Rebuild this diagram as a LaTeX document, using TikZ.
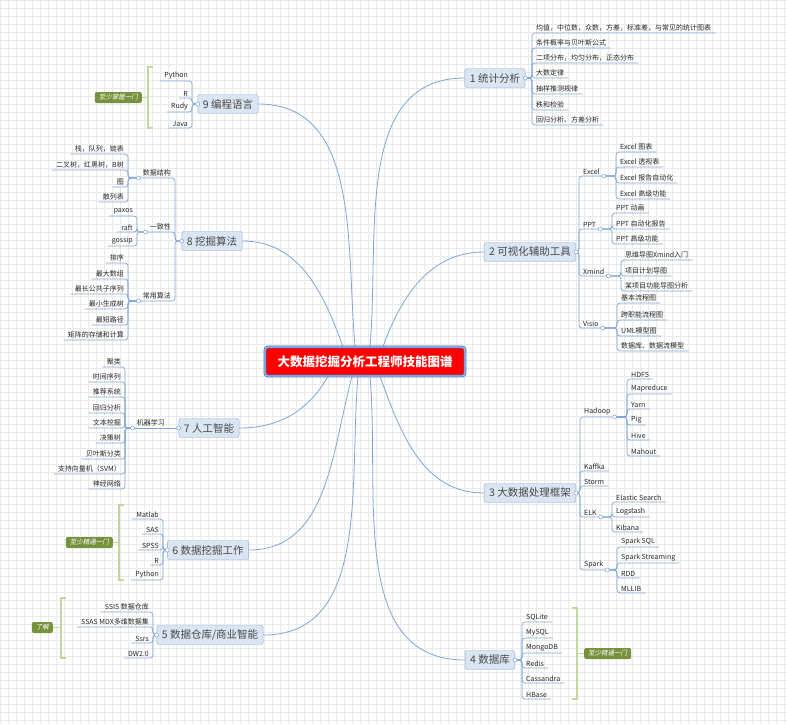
\documentclass[tikz,border=0pt]{standalone}
\usepackage{fontspec}
\setmainfont{Noto Sans CJK SC}
\newfontfamily\tagfont[FakeSlant=0.2]{Noto Sans CJK SC}
\usetikzlibrary{positioning, calc}
\definecolor{linkblue}{RGB}{125,165,215}
\definecolor{topicfill}{RGB}{219,229,241}
\definecolor{topicline}{RGB}{141,175,220}
\definecolor{rootblue}{RGB}{70,110,190}
\definecolor{rootlight}{RGB}{160,190,235}
\definecolor{tagolive}{RGB}{118,146,60}
\definecolor{bracegreen}{RGB}{196,214,160}
\definecolor{ink}{RGB}{40,40,40}
\definecolor{gridgray}{RGB}{234,234,234}
\tikzset{
  root/.style={draw=rootblue, line width=0.8pt, double=rootlight, double distance=1.2pt,
    fill=red, rounded corners=3pt, text=white, minimum width=200pt, minimum height=29pt,
    font=\fontsize{12.5}{15}\selectfont\bfseries},
  topic/.style={draw=topicline, fill=topicfill, rounded corners=2pt, text=ink!85,
    font=\fontsize{10.5}{12}\selectfont, minimum height=19pt, inner xsep=5pt, inner ysep=0pt},
  leafR/.style={anchor=south west, font=\fontsize{7}{8}\selectfont, text=ink,
    inner xsep=4pt, inner ysep=1.5pt},
  leafL/.style={leafR, anchor=south east},
  branch/.style={draw=linkblue, line width=0.7pt, rounded corners=3pt},
  link/.style={draw=linkblue, line width=0.8pt},
  knob/.style={draw=linkblue, fill=white, line width=0.5pt},
  bracket/.style={draw=bracegreen, line width=1.8pt},
  tag/.style={fill=tagolive, text=white, rounded corners=2pt,
    font=\tagfont\fontsize{6.5}{8}\selectfont, inner xsep=4pt, inner ysep=2.5pt}
}
\begin{document}
\begin{tikzpicture}[x=1pt, y=-1pt]
  \useasboundingbox (0,0) rectangle (787,724);
  \fill[white] (0,0) rectangle (787,724);
  \draw[gridgray, line width=0.4pt, step=8pt] (0pt,0pt) grid (787pt,-724pt);

  % centre and main topics
  \node[root] (root) at (365,361.5) {大数据挖掘分析工程师技能图谱};
  \node[topic] (t1) at (495,78) {1 统计分析};
  \node[topic] (t2) at (530,252) {2 可视化辅助工具};
  \node[topic] (t3) at (530,493) {3 大数据处理框架};
  \node[topic] (t4) at (490,660) {4 数据库};
  \node[topic] (t5) at (210,635) {5 数据仓库/商业智能};
  \node[topic] (t6) at (208,550) {6 数据挖掘工作};
  \node[topic] (t7) at (209,428) {7 人工智能};
  \node[topic] (t8) at (212,241) {8 挖掘算法};
  \node[topic] (t9) at (228,104) {9 编程语言};

  \draw[link] ([xshift=5pt]root.north) to[out=85, in=180] (t1.west);
  \draw[link] ([xshift=18pt]root.north) to[out=70, in=180] (t2.west);
  \draw[link] ([xshift=15pt]root.south) to[out=-70, in=180] (t3.west);
  \draw[link] ([xshift=5pt]root.south) to[out=-85, in=180] (t4.west);
  \draw[link] ([xshift=-7pt]root.south) to[out=-95, in=0] (t5.east);
  \draw[link] ([xshift=-13pt]root.south) to[out=-105, in=0] (t6.east);
  \draw[link] ([xshift=-37pt]root.south) to[out=-120, in=0] (t7.east);
  \draw[link] ([xshift=-22pt]root.north) to[out=110, in=0] (t8.east);
  \draw[link] ([xshift=-10pt]root.north) to[out=95, in=0] (t9.east);

  % 1 statistics
  \foreach \t/\y [count=\i] in {均值，中位数，众数，方差，标准差，与常见的统计图表/33,
      条件概率与贝叶斯公式/48, 二项分布，均匀分布，正态分布/63, 大数定律/78,
      抽样推测规律/94, 秩和检验/110, 回归分析、方差分析/125}{
    \node[leafR] (stat\i) at (532,\y) {\t};
    \draw[branch] (t1.east) -- (stat\i.south west |- t1.east) -- (stat\i.south west) -- (stat\i.south east);
  }

  % 2 visual tools
  \node[leafR] (excel) at (579,176) {Excel};
  \node[leafR] (ppt) at (579,229) {PPT};
  \node[leafR] (xmind) at (579,276) {Xmind};
  \node[leafR] (visio) at (579,328) {Visio};
  \foreach \p in {excel, ppt, xmind, visio}
    \draw[branch] (t2.east) -- (\p.south west |- t2.east) -- (\p.south west) -- (\p.south east);
  \foreach \t/\y [count=\i] in {Excel 图表/152, Excel 透视表/167, Excel 报告自动化/183, Excel 高级功能/199}{
    \node[leafR] (exc\i) at (616,\y) {\t};
    \draw[branch] (excel.south east) -- (exc\i.south west |- excel.south east) -- (exc\i.south west) -- (exc\i.south east);
  }
  \foreach \t/\y [count=\i] in {PPT 动画/213, PPT 自动化报告/229, PPT 高级功能/244}{
    \node[leafR] (ppt\i) at (612,\y) {\t};
    \draw[branch] (ppt.south east) -- (ppt\i.south west |- ppt.south east) -- (ppt\i.south west) -- (ppt\i.south east);
  }
  \foreach \t/\y [count=\i] in {思维导图Xmind入门/260, 项目计划导图/276, 某项目功能导图分析/291}{
    \node[leafR] (xm\i) at (621,\y) {\t};
    \draw[branch] (xmind.south east) -- (xm\i.south west |- xmind.south east) -- (xm\i.south west) -- (xm\i.south east);
  }
  \foreach \t/\y [count=\i] in {基本流程图/303, 跨职能流程图/320, UML模型图/336, 数据库、数据流模型/351}{
    \node[leafR] (vis\i) at (617,\y) {\t};
    \draw[branch] (visio.south east) -- (vis\i.south west |- visio.south east) -- (vis\i.south west) -- (vis\i.south east);
  }

  % 3 big data frameworks
  \node[leafR] (hadoop) at (580,417) {Hadoop};
  \node[leafR] (kaffka) at (580,471) {Kaffka};
  \node[leafR] (storm) at (580,486) {Storm};
  \node[leafR] (elk) at (580,517) {ELK};
  \node[leafR] (spark) at (580,570) {Spark};
  \foreach \p in {hadoop, kaffka, storm, elk, spark}
    \draw[branch] (t3.east) -- (\p.south west |- t3.east) -- (\p.south west) -- (\p.south east);
  \foreach \t/\y [count=\i] in {HDFS/379, Mapreduce/394, Yarn/409, Pig/425, Hive/440, Mahout/456}{
    \node[leafR] (had\i) at (627,\y) {\t};
    \draw[branch] (hadoop.south east) -- (had\i.south west |- hadoop.south east) -- (had\i.south west) -- (had\i.south east);
  }
  \foreach \t/\y [count=\i] in {Elastic Search/502, Logstash/517, Kibana/532}{
    \node[leafR] (elk\i) at (612,\y) {\t};
    \draw[branch] (elk.south east) -- (elk\i.south west |- elk.south east) -- (elk\i.south west) -- (elk\i.south east);
  }
  \foreach \t/\y [count=\i] in {Spark SQL/547, Spark Streaming/563, RDD/578, MLLIB/593}{
    \node[leafR] (spk\i) at (617,\y) {\t};
    \draw[branch] (spark.south east) -- (spk\i.south west |- spark.south east) -- (spk\i.south west) -- (spk\i.south east);
  }

  % 4 databases
  \foreach \t/\y [count=\i] in {SQLite/622, MySQL/638, MongoDB/653, Redis/668, Cassandra/683, HBase/699}{
    \node[leafR] (db\i) at (522,\y) {\t};
    \draw[branch] (t4.east) -- (db\i.south west |- t4.east) -- (db\i.south west) -- (db\i.south east);
  }
  \node[tag, anchor=west] (tg4) at (584,653.5) {至少精通一门};
  \draw[bracket] (572,608) -- (577,608) -- (577,699) -- (572,699);
  \draw[bracket] (577,653.5) -- (tg4.west);

  % 5 data warehouse / BI
  \foreach \t/\y [count=\i] in {SSIS 数据仓库/612, SSAS MDX多维数据集/627, Ssrs/643, DW2.0/658}{
    \node[leafL] (bi\i) at (153,\y) {\t};
    \draw[branch] (t5.west) -- (bi\i.south east |- t5.west) -- (bi\i.south east) -- (bi\i.south west);
  }
  \node[tag, anchor=east] (tg5) at (53,627.5) {了解};
  \draw[bracket] (66,598) -- (61,598) -- (61,658) -- (66,658);
  \draw[bracket] (61,627.5) -- (tg5.east);

  % 6 data mining tools
  \foreach \t/\y [count=\i] in {Matlab/519, SAS/534, SPSS/550, R/565, Python/580}{
    \node[leafL] (dm\i) at (163,\y) {\t};
    \draw[branch] (t6.west) -- (dm\i.south east |- t6.west) -- (dm\i.south east) -- (dm\i.south west);
  }
  \node[tag, anchor=east] (tg6) at (113,542.5) {至少精通一门};
  \draw[bracket] (124,505) -- (119,505) -- (119,580) -- (124,580);
  \draw[bracket] (119,542.5) -- (tg6.east);

  % 7 artificial intelligence
  \node[leafL] (ml) at (169,428) {机器学习};
  \draw[branch] (t7.west) -- (ml.south west);
  \foreach \t/\y [count=\i] in {聚类/367, 时间序列/382, 推荐系统/397, 回归分析/413, 文本挖掘/428,
      决策树/443, 贝叶斯分类/459, 支持向量机（SVM）/474, 神经网络/489}{
    \node[leafL] (ml\i) at (125,\y) {\t};
    \draw[branch] (ml.south west) -- (ml\i.south east |- ml.south west) -- (ml\i.south east) -- (ml\i.south west);
  }

  % 8 algorithms
  \node[leafL] (ds) at (175,178) {数据结构};
  \node[leafL] (cons) at (175,232) {一致性};
  \node[leafL] (algo) at (175,301) {常用算法};
  \foreach \p in {ds, cons, algo}
    \draw[branch] (t8.west) -- (\p.south east |- t8.west) -- (\p.south east) -- (\p.south west);
  \foreach \t/\y [count=\i] in {栈，队列，链表/154, 二叉树，红黑树，B树/170, 图/187, 散列表/202}{
    \node[leafL] (ds\i) at (128,\y) {\t};
    \draw[branch] (ds.south west) -- (ds\i.south east |- ds.south west) -- (ds\i.south east) -- (ds\i.south west);
  }
  \foreach \t/\y [count=\i] in {paxos/216, raft/232, gossip/246}{
    \node[leafL] (cons\i) at (137,\y) {\t};
    \draw[branch] (cons.south west) -- (cons\i.south east |- cons.south west) -- (cons\i.south east) -- (cons\i.south west);
  }
  \foreach \t/\y [count=\i] in {排序/263, 最大数组/279, 最长公共子序列/294, 最小生成树/309, 最短路径/325, 矩阵的存储和计算/340}{
    \node[leafL] (algo\i) at (128,\y) {\t};
    \draw[branch] (algo.south west) -- (algo\i.south east |- algo.south west) -- (algo\i.south east) -- (algo\i.south west);
  }

  % 9 programming languages
  \foreach \t/\y [count=\i] in {Python/81, R/98, Rudy/112, Java/128}{
    \node[leafL] (lang\i) at (192,\y) {\t};
    \draw[branch] (t9.west) -- (lang\i.south east |- t9.west) -- (lang\i.south east) -- (lang\i.south west);
  }
  \node[tag, anchor=east] (tg9) at (142,97.5) {至少掌握一门};
  \draw[bracket] (153,67) -- (148,67) -- (148,128) -- (153,128);
  \draw[bracket] (148,97.5) -- (tg9.east);

  % collapse knobs
  \foreach \n in {t1, t2, t3, t4}
    \draw[knob] (\n.east) circle (2pt);
  \foreach \n in {t5, t6, t7, t8, t9}
    \draw[knob] (\n.west) circle (2pt);
  \foreach \n in {excel, ppt, xmind, visio, hadoop, elk, spark}
    \draw[knob] (\n.south east) circle (2pt);
  \foreach \n in {ml, ds, cons, algo}
    \draw[knob] (\n.south west) circle (2pt);
\end{tikzpicture}
\end{document}
